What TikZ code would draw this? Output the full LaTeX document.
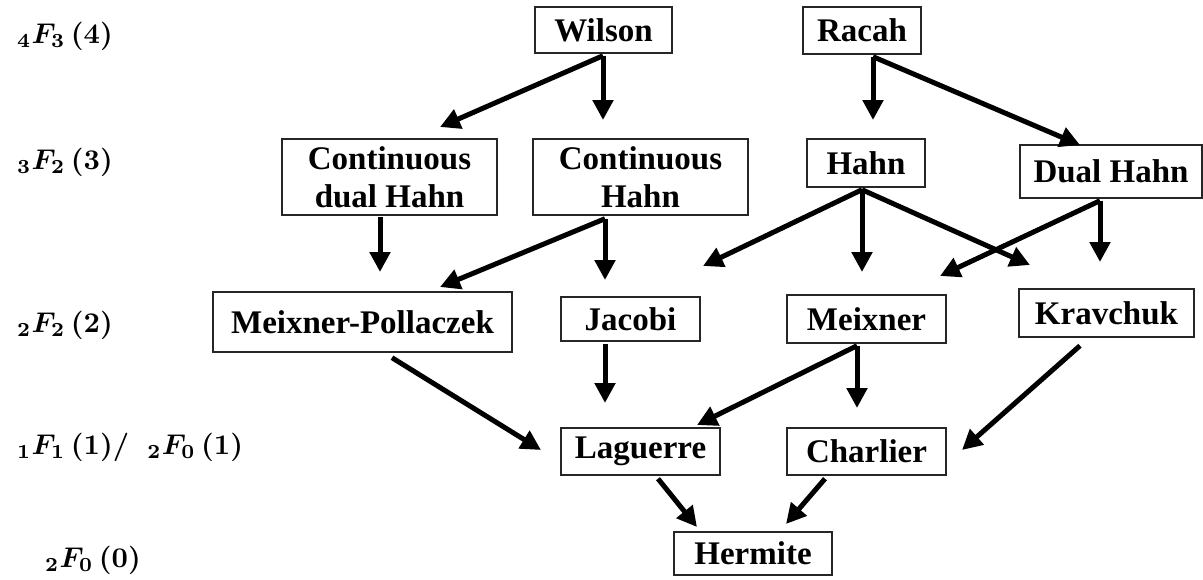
\documentclass[tikz,border=0pt]{standalone}
\usepackage{graphicx}
\usepackage[no-math]{fontspec}
\setmainfont{Liberation Serif}
\usetikzlibrary{arrows.meta}
\newcommand{\lvl}[1]{\scalebox{2.85}{\boldmath$#1$}}
\begin{document}
\begin{tikzpicture}[x=1pt,y=-1pt,
  box/.style={draw=black!85,line width=1.4pt,inner sep=0pt,align=center,
    font=\fontsize{33}{38}\selectfont\bfseries},
  lbl/.style={anchor=west,inner sep=0pt},
  arr/.style={line width=5pt,-{Triangle[length=20pt,width=20pt]}}]
\useasboundingbox (0,0) rectangle (1203,579);
% level labels
\node[lbl] (l4) at (17,36) {\lvl{{}_4F_3\,(4)}};
\node[lbl] (l3) at (17,162) {\lvl{{}_3F_2\,(3)}};
\node[lbl] (l2) at (17,325) {\lvl{{}_2F_2\,(2)}};
\node[lbl] (l1) at (17,447) {\lvl{{}_1F_1\,(1)\mathrm{/}\;\;{}_2F_0\,(1)}};
\node[lbl] (l0) at (45,560) {\lvl{{}_2F_0\,(0)}};
% boxes
\node[box,minimum width=137pt,minimum height=46pt] (wilson) at (603.5,30) {Wilson};
\node[box,minimum width=118pt,minimum height=47pt] (racah) at (862,30.5) {Racah};
\node[box,minimum width=215pt,minimum height=76pt] (cdh) at (389.5,177) {Continuous\\dual Hahn};
\node[box,minimum width=215pt,minimum height=76pt] (ch) at (640.5,177) {Continuous\\Hahn};
\node[box,minimum width=118pt,minimum height=48pt] (hahn) at (866,163) {Hahn};
\node[box,minimum width=182pt,minimum height=53pt] (dhahn) at (1111,171.5) {Dual Hahn};
\node[box,minimum width=299pt,minimum height=60pt] (mp) at (362.5,322) {Meixner-Pollaczek};
\node[box,minimum width=139pt,minimum height=44pt] (jacobi) at (630.5,319) {Jacobi};
\node[box,minimum width=159pt,minimum height=48pt] (meixner) at (866.5,319) {Meixner};
\node[box,minimum width=175pt,minimum height=48pt] (krav) at (1106.5,313) {Kravchuk};
\node[box,minimum width=159pt,minimum height=47pt] (laguerre) at (640.5,451.5) {Laguerre};
\node[box,minimum width=159pt,minimum height=47pt] (charlier) at (866.5,451.5) {Charlier};
\node[box,minimum width=158pt,minimum height=43pt] (hermite) at (753,553.5) {Hermite};
% arrow tips
\coordinate (tW1) at (440,127);
\coordinate (tW2) at (603,120);
\coordinate (tR1) at (873,120);
\coordinate (tR2) at (1080,145);
\coordinate (tCD) at (380,272);
\coordinate (tC1) at (605,280);
\coordinate (tC2) at (440,287);
\coordinate (tH1) at (862,272);
\coordinate (tH2) at (1030,265);
\coordinate (tH3) at (703,266);
\coordinate (tD1) at (1100,262);
\coordinate (tD2) at (940,276);
\coordinate (tMP) at (541,450);
\coordinate (tJ) at (605,403);
\coordinate (tM1) at (857,408);
\coordinate (tM2) at (697,425);
\coordinate (tK) at (962,450);
\coordinate (tL) at (697,527);
\coordinate (tC) at (786,524);
% arrows
\draw[arr] ([xshift=-0.5pt,yshift=-2pt]wilson.south) -- (tW1);
\draw[arr] ([xshift=-0.5pt,yshift=-2pt]wilson.south) -- (tW2);
\draw[arr] ([xshift=11pt,yshift=-2pt]racah.south) -- (tR1);
\draw[arr] ([xshift=11pt,yshift=-2pt]racah.south) -- (tR2);
\draw[arr] ([xshift=-9.5pt,yshift=-1pt]cdh.south) -- (tCD);
\draw[arr] ([xshift=-35.5pt,yshift=-3pt]ch.south) -- (tC1);
\draw[arr] ([xshift=-35.5pt,yshift=-3pt]ch.south) -- (tC2);
\draw[arr] ([xshift=-4pt,yshift=-2pt]hahn.south) -- (tH1);
\draw[arr] ([xshift=-4pt,yshift=-2pt]hahn.south) -- (tH2);
\draw[arr] ([xshift=-4pt,yshift=-2pt]hahn.south) -- (tH3);
\draw[arr] ([xshift=-11pt,yshift=-2pt]dhahn.south) -- (tD1);
\draw[arr] ([xshift=-11pt,yshift=-2pt]dhahn.south) -- (tD2);
\draw[arr] ([xshift=29.5pt,yshift=-5pt]mp.south) -- (tMP);
\draw[arr] ([xshift=-25.5pt,yshift=-2pt]jacobi.south) -- (tJ);
\draw[arr] ([xshift=-9.5pt,yshift=-2pt]meixner.south) -- (tM1);
\draw[arr] ([xshift=-9.5pt,yshift=-2pt]meixner.south) -- (tM2);
\draw[arr] ([xshift=-26.5pt,yshift=-8pt]krav.south) -- (tK);
\draw[arr] ([xshift=17.5pt,yshift=-3pt]laguerre.south) -- (tL);
\draw[arr] ([xshift=-41.5pt,yshift=-3pt]charlier.south) -- (tC);
\end{tikzpicture}
\end{document}
